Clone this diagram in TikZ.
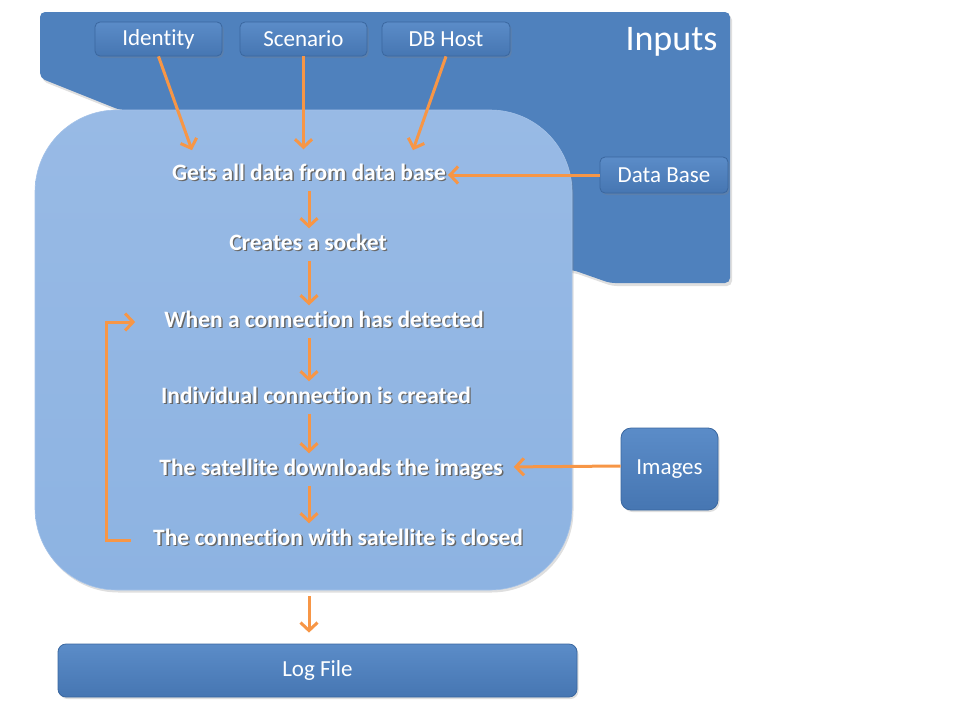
\documentclass[tikz,border=0pt]{standalone}
\usepackage{fontspec}
\setmainfont{Carlito}[Ligatures=NoCommon]
\usetikzlibrary{arrows.meta,shadows}
\definecolor{inbg}{HTML}{4F81BD}
\definecolor{lightbg}{HTML}{8DB3E2}
\definecolor{lighttop}{HTML}{98BAE5}
\definecolor{boxtop}{HTML}{5B8CC8}
\definecolor{boxbot}{HTML}{4676B2}
\definecolor{boxline}{HTML}{3A679F}
\definecolor{orng}{HTML}{F79646}
\newcommand{\shd}[1]{\makebox[0pt][l]{\hspace{1.4pt}\raisebox{-1.4pt}{\color{black!60}#1}}#1}
\tikzset{
  smallbox/.style={draw=boxline, line width=0.8pt, rounded corners=5pt,
    top color=boxtop, bottom color=boxbot, text=white,
    font=\fontsize{23}{26}\selectfont, inner sep=0pt,
    drop shadow={opacity=0.25, shadow xshift=1.5pt, shadow yshift=-2pt}},
  steptext/.style={text=white, font=\fontsize{23.5}{26}\selectfont\bfseries,
    inner sep=0pt, text height=16pt, text depth=5pt},
  arr/.style={draw=orng, line width=3pt,
    -{Straight Barb[length=8pt, width=17pt, line width=3pt]}},
  varr/.style={arr, shorten <=5pt, shorten >=6pt},
}
\begin{document}
\begin{tikzpicture}[x=1pt,y=-1pt]
\useasboundingbox (0,0) rectangle (960,720);
% Inputs background
\fill[inbg, rounded corners=5pt,
  drop shadow={opacity=0.25, shadow xshift=2pt, shadow yshift=-3pt}]
  (40,12) -- (730,12) -- (730,283) -- (610,283) -- (573,270) -- (500,270)
  -- (500,110) -- (120,110) -- (40,78) -- cycle;
\node[text=white, font=\fontsize{36}{40}\selectfont, anchor=east] (inputs) at (721,42) {Inputs};
% main light box
\node[rounded corners=82pt, minimum width=537pt, minimum height=480pt,
  top color=lighttop, bottom color=lightbg, draw=lightbg!80!white, line width=0.6pt,
  drop shadow={opacity=0.25, shadow xshift=1.5pt, shadow yshift=-2.5pt}]
  (main) at (303.5,350) {};
% input boxes
\node[smallbox, minimum width=127pt, minimum height=34pt] (id) at (158.5,39) {Identity};
\node[smallbox, minimum width=127pt, minimum height=34pt] (sc) at (303.5,39) {Scenario};
\node[smallbox, minimum width=128pt, minimum height=34pt] (dbh) at (446,39) {DB Host};
\node[smallbox, minimum width=128pt, minimum height=36pt] (dbase) at (664,175) {Data Base};
\node[smallbox, rounded corners=10pt, minimum width=97pt, minimum height=82pt] (img) at (669.5,469) {Images};
\node[smallbox, rounded corners=8pt, minimum width=519pt, minimum height=53pt] (log) at (317.5,670.5) {Log File};
% steps
\coordinate (ax) at (309,0);
\coordinate (lp) at (106,0);
\coordinate (t1) at (197,0);
\coordinate (t3) at (408,0);
\node[steptext] (s1) at (309,175) {\shd{Gets all data from data base}};
\node[steptext] (s2) at (308,245) {\shd{Creates a socket}};
\node[steptext] (s3) at (324,322) {\shd{When a connection has detected}};
\node[steptext] (s4) at (316,398) {\shd{Individual connection is created}};
\node[steptext] (s5) at (331,470) {\shd{The satellite downloads the images}};
\node[steptext] (s6) at (338,540) {\shd{The connection with satellite is closed}};
% arrows from inputs
\draw[arr, shorten >=15pt] (id.south) -- (s1.north -| t1);
\draw[arr, shorten >=15pt] (sc.south) -- (sc.south |- s1.north);
\draw[arr, shorten >=15pt] (dbh.south) -- (s1.north -| t3);
\draw[arr, shorten >=2pt] (dbase.west) -- (s1.east);
\draw[arr, shorten >=11pt] ([yshift=3pt]img.west) -- ([yshift=3pt]s5.east);
% flow
\draw[varr] (s1.south -| ax) -- (s2.north -| ax);
\draw[varr] (s2.south -| ax) -- (s3.north -| ax);
\draw[varr] (s3.south -| ax) -- (s4.north -| ax);
\draw[varr] (s4.south -| ax) -- (s5.north -| ax);
\draw[varr] (s5.south -| ax) -- (s6.north -| ax);
\draw[arr, shorten <=22pt, shorten >=29pt] (s6.west) -- (s6.west -| lp) |- (s3.west);
\draw[arr, shorten <=6pt, shorten >=11pt] (main.south -| ax) -- (log.north -| ax);
\end{tikzpicture}
\end{document}
